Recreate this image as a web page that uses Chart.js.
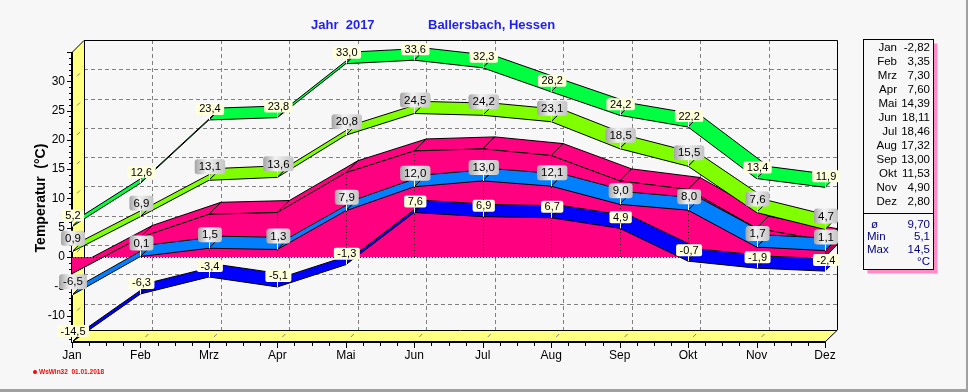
<!DOCTYPE html>
<html>
<head>
<meta charset="utf-8">
<script src="https://cdn.jsdelivr.net/npm/chart.js@4/dist/chart.umd.min.js"></script>
<style>
  html, body { margin: 0; padding: 0; background: #f7f7f7; overflow: hidden; }
</style>
</head>
<body>
<canvas id="chart" width="968" height="392"></canvas>
<script>
/***********************
 * DATA
 ***********************/
const months = ["Jan", "Feb", "Mrz", "Apr", "Mai", "Jun", "Jul", "Aug", "Sep", "Okt", "Nov", "Dez"];
const absMax = [5.2, 12.6, 23.4, 23.8, 33.0, 33.6, 32.3, 28.2, 24.2, 22.2, 13.4, 11.9];
const meanMax = [0.9, 6.9, 13.1, 13.6, 20.8, 24.5, 24.2, 23.1, 18.5, 15.5, 7.6, 4.7];
const meanTemp = [-2.82, 3.35, 7.30, 7.60, 14.39, 18.11, 18.46, 17.32, 13.00, 11.53, 4.90, 2.80];
const meanMin = [-6.5, 0.1, 1.5, 1.3, 7.9, 12.0, 13.0, 12.1, 9.0, 8.0, 1.7, 1.1];
const absMin = [-14.5, -6.3, -3.4, -5.1, -1.3, 7.6, 6.9, 6.7, 4.9, -0.7, -1.9, -2.4];
const yTicks = [-10, -5, 0, 5, 10, 15, 20, 25, 30];
const summaryLabels = ["ø", "Min", "Max"];
const summaryValues = ["9,70", "5,1", "14,5"];

const DX = 12, DY = -12;   // depth of the 3D look
const fmt1 = v => v.toFixed(1).replace(".", ",");
const fmt2 = v => v.toFixed(2).replace(".", ",");

/***********************
 * DRAW HELPERS
 ***********************/
function ribbon(ctx, pts, color) {
  for (let i = 0; i < pts.length - 1; i++) {
    const a = pts[i], b = pts[i + 1];
    ctx.beginPath();
    ctx.moveTo(a.x, a.y);
    ctx.lineTo(b.x, b.y);
    ctx.lineTo(b.x + DX, b.y + DY);
    ctx.lineTo(a.x + DX, a.y + DY);
    ctx.closePath();
    ctx.fillStyle = color;
    ctx.fill();
    ctx.strokeStyle = "#000";
    ctx.lineWidth = 1;
    ctx.stroke();
  }
}

function roundRect(ctx, x, y, w, h, r) {
  ctx.beginPath();
  ctx.moveTo(x + r, y);
  ctx.lineTo(x + w - r, y);
  ctx.quadraticCurveTo(x + w, y, x + w, y + r);
  ctx.lineTo(x + w, y + h - r);
  ctx.quadraticCurveTo(x + w, y + h, x + w - r, y + h);
  ctx.lineTo(x + r, y + h);
  ctx.quadraticCurveTo(x, y + h, x, y + h - r);
  ctx.lineTo(x, y + r);
  ctx.quadraticCurveTo(x, y, x + r, y);
  ctx.closePath();
}

function label(ctx, p, text, gray) {
  ctx.font = gray ? "11.5px Arial" : "11px Arial";
  const w = ctx.measureText(text).width + (gray ? 8 : 7);
  const h = gray ? 15 : 12;
  const gap = gray ? 6 : 5;
  const x = p.x + 1 - w / 2, y = p.y - gap - h;
  ctx.strokeStyle = "#fff";
  ctx.lineWidth = 1;
  ctx.beginPath();
  ctx.moveTo(Math.round(p.x) + 0.5, y + h);
  ctx.lineTo(Math.round(p.x) + 0.5, p.y);
  ctx.stroke();
  if (gray) {
    const g = ctx.createLinearGradient(x, 0, x + w, 0);
    g.addColorStop(0, "#a4a4a4");
    g.addColorStop(0.4, "#f2f2f2");
    g.addColorStop(1, "#c4c4c4");
    ctx.fillStyle = g;
    roundRect(ctx, x, y, w, h, 3);
  } else {
    ctx.fillStyle = "#ffffdc";
    roundRect(ctx, x, y, w, h, 2);
  }
  ctx.fill();
  ctx.fillStyle = "#000";
  ctx.textAlign = "center";
  ctx.textBaseline = "middle";
  ctx.fillText(text, x + w / 2, y + h / 2 + 0.5);
}

/***********************
 * SCENE PLUGIN
 ***********************/
const scene = {
  id: "scene",
  beforeDatasetsDraw(chart) {
    const ctx = chart.ctx;
    const xs = chart.scales.x, ys = chart.scales.y;
    const L = xs.getPixelForValue(0), R = xs.getPixelForValue(months.length - 1);
    const T = ys.getPixelForValue(ys.max), B = ys.getPixelForValue(ys.min);

    ctx.save();
    ctx.fillStyle = "#f7f7f7";
    ctx.fillRect(0, 0, chart.width, chart.height);

    // window frame
    ctx.fillStyle = "#a0a0a0";
    ctx.fillRect(0, 389, chart.width, 3);
    ctx.fillRect(966, 0, 2, chart.height);

    // back grid
    ctx.strokeStyle = "#808080";
    ctx.lineWidth = 1;
    ctx.setLineDash([4, 3]);
    yTicks.forEach(v => {
      const y = Math.round(ys.getPixelForValue(v) + DY) + 0.5;
      ctx.beginPath(); ctx.moveTo(L + DX, y); ctx.lineTo(R + DX, y); ctx.stroke();
    });
    months.forEach((m, i) => {
      if (i === 0 || i === months.length - 1) return;
      const x = Math.round(xs.getPixelForValue(i) + DX) + 0.5;
      ctx.beginPath(); ctx.moveTo(x, T + DY); ctx.lineTo(x, B + DY); ctx.stroke();
    });
    ctx.setLineDash([]);

    // left wall
    ctx.fillStyle = "#ffff80";
    ctx.beginPath();
    ctx.moveTo(L, T); ctx.lineTo(L + DX, T + DY); ctx.lineTo(L + DX, B + DY); ctx.lineTo(L, B);
    ctx.closePath(); ctx.fill();
    // floor
    ctx.beginPath();
    ctx.moveTo(L, B); ctx.lineTo(L + DX, B + DY); ctx.lineTo(R + DX, B + DY); ctx.lineTo(R, B);
    ctx.closePath(); ctx.fill();

    // small depth marks on wall and floor
    ctx.strokeStyle = "#808080";
    yTicks.forEach(v => {
      const y = ys.getPixelForValue(v);
      ctx.beginPath(); ctx.moveTo(L + 5, y - 5); ctx.lineTo(L + 8, y - 8); ctx.stroke();
    });
    months.forEach((m, i) => {
      const x = xs.getPixelForValue(i);
      ctx.beginPath(); ctx.moveTo(x + 5, B - 5); ctx.lineTo(x + 8, B - 8); ctx.stroke();
    });

    // frame lines
    ctx.strokeStyle = "#000";
    ctx.lineWidth = 1;
    ctx.beginPath();
    ctx.moveTo(L, T + 0.5); ctx.lineTo(L + DX, T + DY + 0.5);
    ctx.lineTo(R + DX + 0.5, T + DY + 0.5); ctx.lineTo(R + DX + 0.5, B + DY);
    ctx.lineTo(R, B);
    ctx.moveTo(L + DX + 0.5, T + DY); ctx.lineTo(L + DX + 0.5, B + DY);
    ctx.moveTo(L + DX, B + DY + 0.5); ctx.lineTo(R + DX, B + DY + 0.5);
    ctx.stroke();
    ctx.lineWidth = 2;
    ctx.beginPath();
    ctx.moveTo(L, T); ctx.lineTo(L, B + 1);
    ctx.moveTo(L, B); ctx.lineTo(R, B);
    ctx.stroke();

    // y axis ticks and labels
    ctx.lineWidth = 1;
    ctx.font = "12px Arial";
    ctx.fillStyle = "#000";
    ctx.textAlign = "right";
    ctx.textBaseline = "middle";
    for (let v = Math.ceil(ys.min); v <= ys.max; v++) {
      const y = Math.round(ys.getPixelForValue(v)) + 0.5;
      ctx.beginPath(); ctx.moveTo(L - (v % 5 === 0 ? 5 : 3), y); ctx.lineTo(L, y); ctx.stroke();
    }
    yTicks.forEach(v => ctx.fillText(String(v), 65, ys.getPixelForValue(v)));

    // x axis ticks and labels
    ctx.textAlign = "center";
    for (let i = 0; i < months.length; i++) {
      const x = xs.getPixelForValue(i);
      ctx.beginPath(); ctx.moveTo(Math.round(x) + 0.5, B); ctx.lineTo(Math.round(x) + 0.5, B + 6); ctx.stroke();
      if (i < months.length - 1) {
        const step = (xs.getPixelForValue(i + 1) - x) / 4;
        for (let k = 1; k < 4; k++) {
          const xm = Math.round(x + k * step) + 0.5;
          ctx.beginPath(); ctx.moveTo(xm, B); ctx.lineTo(xm, B + 4); ctx.stroke();
        }
      }
      ctx.fillText(months[i], x, 356);
    }

    // axis title
    ctx.save();
    ctx.translate(41, 198);
    ctx.rotate(-Math.PI / 2);
    ctx.font = "bold 14px Arial";
    ctx.fillText("Temperatur  (°C)", 0, 0);
    ctx.restore();

    // header
    ctx.font = "bold 13px Arial";
    ctx.fillStyle = "#1f1fef";
    ctx.textAlign = "left";
    ctx.fillText("Jahr  2017", 311, 25);
    ctx.fillText("Ballersbach, Hessen", 428, 25);

    // footer
    ctx.fillStyle = "#ff0000";
    ctx.beginPath(); ctx.arc(35, 372, 2, 0, Math.PI * 2); ctx.fill();
    ctx.font = "bold 7px Arial";
    ctx.fillText("WsWin32  01.01.2018", 39, 372, 65);
    ctx.restore();
  },

  afterDatasetsDraw(chart) {
    const ctx = chart.ctx;
    const ys = chart.scales.y;
    const pts = i => chart.getDatasetMeta(i).data.map(p => ({ x: p.x, y: p.y }));
    const y0 = ys.getPixelForValue(0);

    ctx.save();
    // mean temperature as a 3D area
    const m = pts(2);
    ribbon(ctx, m, "#ff0080");
    const last = m[m.length - 1];
    ctx.beginPath();
    ctx.moveTo(last.x, y0); ctx.lineTo(last.x, last.y);
    ctx.lineTo(last.x + DX, last.y + DY); ctx.lineTo(last.x + DX, y0 + DY);
    ctx.closePath();
    ctx.fillStyle = "#b00048"; ctx.fill();
    ctx.strokeStyle = "#000"; ctx.stroke();
    ctx.beginPath();
    ctx.moveTo(m[0].x, y0);
    m.forEach(p => ctx.lineTo(p.x, p.y));
    ctx.lineTo(last.x, y0);
    ctx.closePath();
    ctx.fillStyle = "#ff0080"; ctx.fill();
    ctx.beginPath();
    m.forEach((p, i) => i ? ctx.lineTo(p.x, p.y) : ctx.moveTo(p.x, p.y));
    ctx.strokeStyle = "#000"; ctx.stroke();
    ctx.setLineDash([1, 2]);
    m.forEach((p, i) => {
      if (i === 0 || i === m.length - 1) return;
      const x = Math.round(p.x) + 0.5;
      ctx.beginPath(); ctx.moveTo(x, y0); ctx.lineTo(x, p.y); ctx.stroke();
    });
    ctx.beginPath(); ctx.moveTo(m[0].x, Math.round(y0) + 0.5); ctx.lineTo(last.x, Math.round(y0) + 0.5); ctx.stroke();
    ctx.setLineDash([]);

    // min / max ribbons
    ribbon(ctx, pts(4), "#0000ff");
    ribbon(ctx, pts(3), "#0080ff");
    ribbon(ctx, pts(1), "#80ff00");
    ribbon(ctx, pts(0), "#00ff40");

    // value labels
    pts(0).forEach((p, i) => label(ctx, p, fmt1(absMax[i]), false));
    pts(1).forEach((p, i) => label(ctx, p, fmt1(meanMax[i]), true));
    pts(3).forEach((p, i) => label(ctx, p, fmt1(meanMin[i]), true));
    pts(4).forEach((p, i) => label(ctx, p, fmt1(absMin[i]), false));

    // summary panel
    const bx = 863.5, by = 39.5, bw = 70, bh = 230;
    ctx.fillStyle = "#ff8cc6";
    ctx.fillRect(bx + bw, by + 4, 4, bh);
    ctx.fillRect(bx + 4, by + bh, bw, 4);
    ctx.fillStyle = "#f7f7f7";
    ctx.fillRect(bx, by, bw, bh);
    ctx.strokeStyle = "#000";
    ctx.lineWidth = 1;
    ctx.strokeRect(bx, by, bw, bh);
    ctx.beginPath(); ctx.moveTo(bx, 213.5); ctx.lineTo(bx + bw, 213.5); ctx.stroke();

    ctx.font = "11.5px Arial";
    ctx.textBaseline = "middle";
    ctx.fillStyle = "#000";
    months.forEach((mo, i) => {
      const y = 48 + i * 14;
      ctx.textAlign = "right";
      ctx.fillText(mo, 897, y);
      ctx.fillText(fmt2(meanTemp[i]), 930, y);
    });
    ctx.fillStyle = "#000080";
    summaryLabels.forEach((s, i) => {
      const y = 225 + i * 12.3;
      ctx.textAlign = "left";
      ctx.fillText(s, i === 0 ? 871 : 867, y);
      ctx.textAlign = "right";
      ctx.fillText(summaryValues[i], 930, y);
    });
    ctx.fillText("°C", 930, 262);
    ctx.restore();
  }
};

/***********************
 * CHART
 ***********************/
const hidden = { showLine: false, pointRadius: 0, pointHoverRadius: 0 };

new Chart(document.getElementById("chart"), {
  type: "line",
  data: {
    labels: months,
    datasets: [
      { label: "Abs. Max", data: absMax, ...hidden },
      { label: "Mittl. Max", data: meanMax, ...hidden },
      { label: "Mittel", data: meanTemp, ...hidden },
      { label: "Mittl. Min", data: meanMin, ...hidden },
      { label: "Abs. Min", data: absMin, ...hidden }
    ]
  },
  options: {
    responsive: false,
    animation: false,
    events: [],
    layout: { padding: { left: 72, right: 143, top: 52, bottom: 50 } },
    plugins: { legend: { display: false }, tooltip: { enabled: false }, title: { display: false } },
    scales: {
      x: { type: "category", display: false, offset: false },
      y: { display: false, min: -14.5, max: 35 }
    }
  },
  plugins: [scene]
});
</script>
</body>
</html>
